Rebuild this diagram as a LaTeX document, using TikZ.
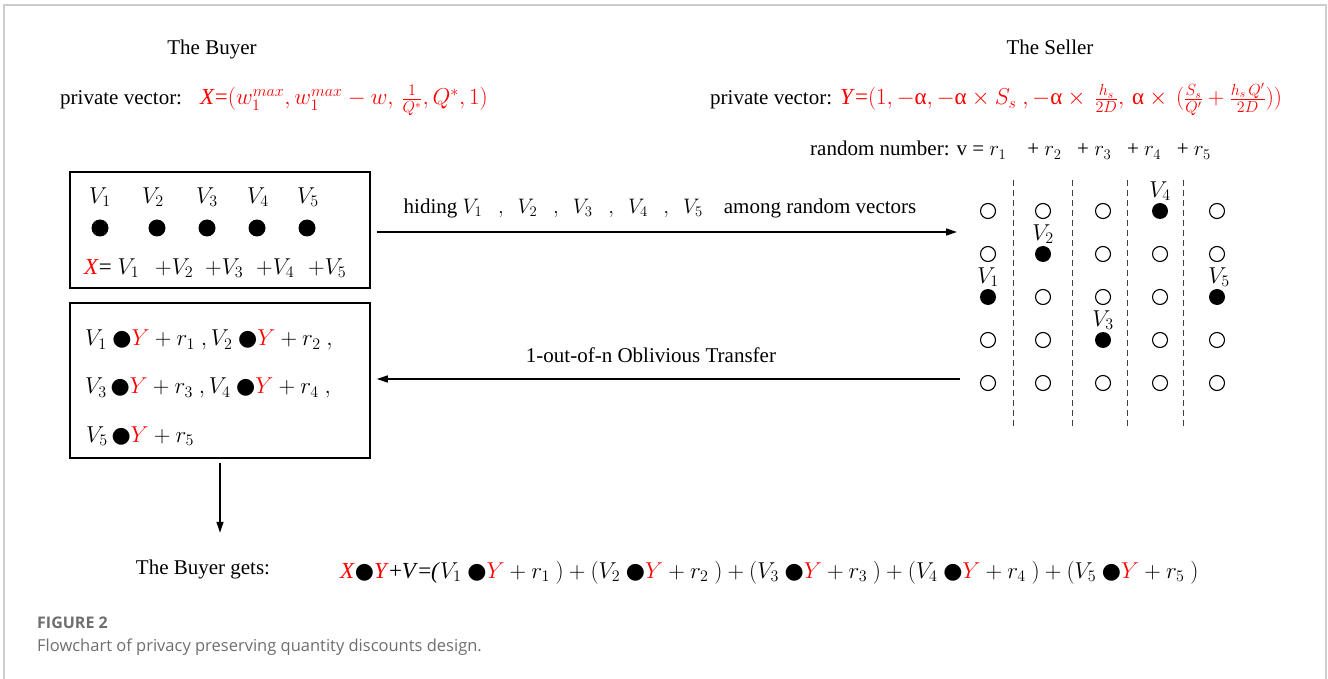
\documentclass[tikz,border=0pt]{standalone}
\usepackage{fix-cm}
\usepackage{fontspec}
\setmainfont{Liberation Serif}
\newfontfamily\djv{DejaVu Sans}
\newfontfamily\capfont{Open Sans}
\usetikzlibrary{arrows.meta}
\definecolor{capgray}{RGB}{110,110,110}
\definecolor{framegray}{RGB}{205,205,205}
\newcommand{\bd}{\mbox{\fontsize{22}{22}\djv\char"25CF}}
\newcommand{\ry}{{\color{red}Y}}
\newcommand{\ralpha}{\mbox{α}}
\begin{document}
\begin{tikzpicture}[x=1pt,y=-1pt,
  txt/.style={font=\fontsize{21}{25}\selectfont, inner sep=0pt},
  mtxt/.style={font=\fontsize{23}{27}\selectfont, inner sep=0pt},
  box/.style={draw, line width=1.5pt, inner sep=0pt},
  arr/.style={line width=1.3pt, -{Triangle[length=11pt,width=7pt]}},
  oc/.style={circle, draw, line width=1.1pt, minimum size=15pt, inner sep=0pt},
  fc/.style={circle, fill, minimum size=16pt, inner sep=0pt},
  sep/.style={line width=0.9pt, dash pattern=on 6pt off 4pt, black!75}]
\useasboundingbox (0,0) rectangle (1328,679);
\draw[framegray, line width=1.5pt] (4,679) -- (4,5) -- (1326,5) -- (1326,679);

% headings
\node[txt, anchor=base] (buyer) at (212,55) {The Buyer};
\node[txt, anchor=base] (seller) at (1050,55) {The Seller};
\node[txt, anchor=base west] (pvb) at (60,105) {private vector:};
\node[mtxt, anchor=base west, text=red] (xvec) at (200,105)
  {\textit{X}=$(w_1^{max}, w_1^{max}-w,\, \frac{1}{Q^*}, Q^*, 1)$};
\node[txt, anchor=base west] (pvs) at (710,105) {private vector:};
\node[mtxt, anchor=base west, text=red] (yvec) at (840,105)
  {\textit{Y}=$(1, -\ralpha, -\ralpha\times S_s\ , -\ralpha\times\,\frac{h_s}{2D},\, \ralpha\times\,(\frac{S_s}{Q'}+\frac{h_s\,Q'}{2D}))$};
\node[txt, anchor=base west] (rnd) at (810,156)
  {random number: v = $r_1$\ \ \ \ + $r_2$\ \ \ + $r_3$\ \ \ + $r_4$\ \ \ + $r_5$};

% buyer box 1
\node[box, minimum width=300pt, minimum height=116pt] (b1) at (220,230) {};
\foreach \x [count=\i] in {100,153,207,258,308} {
  \node[mtxt] (v\i) at (\x,197) {$V_\i$};
}
\foreach \x [count=\i] in {100,157,207,257,307} {
  \node[fc, minimum size=17pt] (d\i) at (\x,228) {};
}
\node[mtxt, anchor=west] (xs1) at (84,268) {\textcolor{red}{\textit{X}}= $V_1$};
\node[mtxt, anchor=west] (xs2) at (155,268) {$+V_2$};
\node[mtxt, anchor=west] (xs3) at (205,268) {$+V_3$};
\node[mtxt, anchor=west] (xs4) at (256,268) {$+V_4$};
\node[mtxt, anchor=west] (xs5) at (308,268) {$+V_5$};

% buyer box 2
\node[box, minimum width=300pt, minimum height=155pt] (b2) at (220,380.5) {};
\node[mtxt, anchor=west] (l1) at (85,340) {$V_1\ \bd\ry+r_1\ ,V_2\ \bd\ry+r_2\ ,$};
\node[mtxt, anchor=west] (l2) at (85,388) {$V_3\,\bd\ry+r_3\ ,V_4\ \bd\ry+r_4\ ,$};
\node[mtxt, anchor=west] (l3) at (86,436) {$V_5\,\bd\ry+r_5$};

% seller grid
\foreach \x/\f [count=\i] in {988/3,1043/2,1103/4,1160/1,1217/3} {
  \foreach \y [count=\j] in {211,254,297,340,383} {
    \ifnum\j=\f
      \node[fc] (c\i\j) at (\x,\y) {};
    \else
      \node[oc] (c\i\j) at (\x,\y) {};
    \fi
  }
}
\node[mtxt, anchor=south] at ([yshift=2pt]c13.north) {$V_1$};
\node[mtxt, anchor=south] at ([yshift=2pt]c22.north) {$V_2$};
\node[mtxt, anchor=south] at ([yshift=2pt]c34.north) {$V_3$};
\node[mtxt, anchor=south] at ([yshift=2pt]c41.north) {$V_4$};
\node[mtxt, anchor=south] at ([xshift=2pt,yshift=2pt]c53.north) {$V_5$};
\foreach \x in {1013,1072,1127,1183} {
  \draw[sep] (\x,180) -- (\x,428);
}

% arrows
\coordinate (h1) at (957,232);
\draw[arr] ([xshift=6pt,yshift=-2pt]b1.east) -- (h1);
\node[txt] (hid) at (660,208)
  {hiding $V_1\ \ \ ,\ \ V_2\ \ \ ,\ \ V_3\ \ \ ,\ \ V_4\ \ \ ,\ \ V_5$\ \ \ \ among random vectors};
\coordinate (h2) at (960,379);
\draw[arr] (h2) -- ([xshift=6pt]h2 -| b2.east);
\node[txt] (ot) at (651,355) {1-out-of-n Oblivious Transfer};
\draw[arr] ([yshift=-4pt]b2.south) -- ++(0,70);

% result
\node[txt, anchor=base] (gets) at (203,574) {The Buyer gets:};
\node[mtxt, anchor=base west] (res) at (340,578)
  {\textcolor{red}{\textit{X}}\bd\textcolor{red}{\textit{Y}}+\textit{V}=\textit{(}$V_1\ \bd\ry+r_1\ )+(V_2\ \bd\ry+r_2\ )+\bigl(V_3\ \bd\ry+r_3\ \bigr)+\bigl(V_4\ \bd\ry+r_4\ \bigr)+(V_5\ \bd\ry+r_5\ )$};

% caption
\node[anchor=base west, inner sep=0pt, font=\capfont\bfseries\fontsize{16}{19}\selectfont, text=capgray] (fig) at (37,628) {FIGURE 2};
\node[anchor=base west, inner sep=0pt, font=\capfont\fontsize{16.5}{19}\selectfont, text=capgray] (cap) at (37,651) {Flowchart of privacy preserving quantity discounts design.};
\end{tikzpicture}
\end{document}
